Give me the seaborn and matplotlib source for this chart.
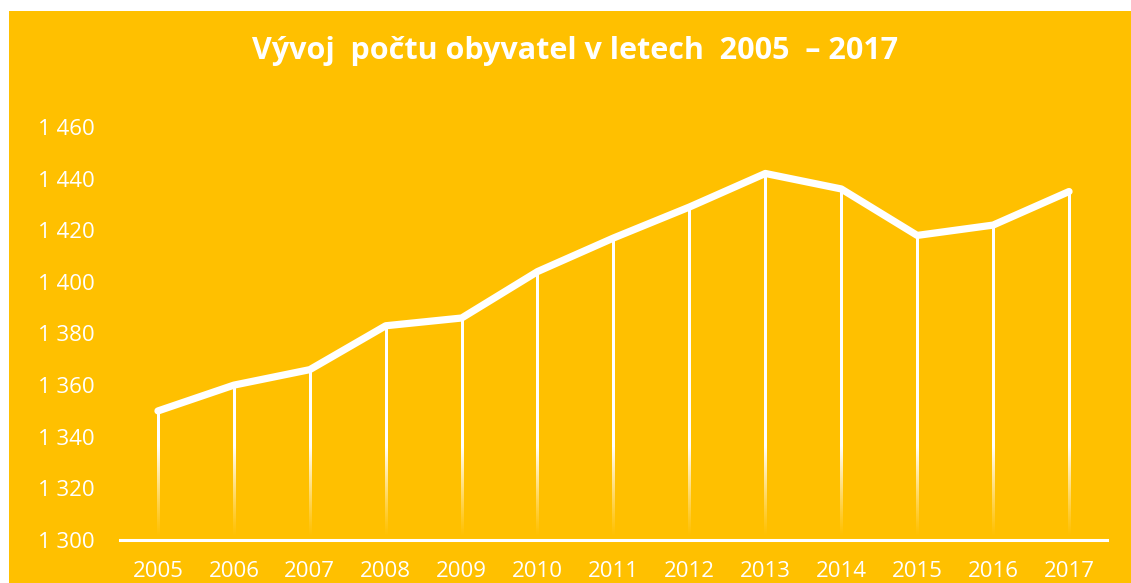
import numpy as np
import pandas as pd
import seaborn as sns
import matplotlib
matplotlib.use("Agg")
import matplotlib.pyplot as plt
from matplotlib.patches import Rectangle

years = [2005, 2006, 2007, 2008, 2009, 2010, 2011, 2012, 2013, 2014, 2015, 2016, 2017]
obyvatel = [1350, 1360, 1366, 1383, 1386, 1404, 1417, 1429, 1442, 1436, 1418, 1422, 1435]
y_ticks = [1300, 1320, 1340, 1360, 1380, 1400, 1420, 1440, 1460]
title = "Vývoj  počtu obyvatel v letech  2005  – 2017"

gold = "#FFC000"
df = pd.DataFrame({"rok": years, "pocet": obyvatel})

sns.set_style("white")
plt.rcParams["font.family"] = ["Open Sans", "DejaVu Sans"]

fig = plt.figure(figsize=(11.31, 5.83), dpi=100)
fig.patch.set_facecolor("white")
fig.patches.append(Rectangle((9 / 1131, 0), 1, 1 - 11 / 583, transform=fig.transFigure,
                             facecolor=gold, edgecolor="none", zorder=-5))

ax = fig.add_axes([120 / 1131, 43 / 583, 987 / 1131, 413 / 583])
ax.set_facecolor("none")

# drop lines as gradient columns: solid at top, fading out toward the axis
fade_lo, fade_hi = 1301, 1336
half_w = 1.1 / 75.9
for x, v in zip(years, obyvatel):
    yy = np.linspace(v, 1300, 300)
    col = np.ones((300, 1, 4))
    col[:, 0, 3] = np.clip((yy - fade_lo) / (fade_hi - fade_lo), 0, 1) ** 1.2
    ax.imshow(col, extent=(x - half_w, x + half_w, 1300, v),
              aspect="auto", interpolation="bilinear", zorder=2)

sns.lineplot(data=df, x="rok", y="pocet", ax=ax, color="white", linewidth=5.2,
             solid_capstyle="round", solid_joinstyle="round", zorder=3)

ax.set_xlim(2004.5, 2017.5)
ax.set_ylim(1300, 1460)
ax.set_xticks(years)
ax.set_xticklabels([str(y) for y in years])
ax.set_yticks(y_ticks)
ax.set_yticklabels([f"{t:,}".replace(",", " ") for t in y_ticks])
ax.tick_params(axis="both", length=0, labelcolor="white", labelsize=16)
ax.tick_params(axis="x", pad=15)
ax.tick_params(axis="y", pad=18)
ax.set_xlabel("")
ax.set_ylabel("")
for s in ["top", "right", "left"]:
    ax.spines[s].set_visible(False)
ax.spines["bottom"].set_color("white")
ax.spines["bottom"].set_linewidth(2.2)
ax.spines["bottom"].set_zorder(4)

fig.text(575 / 1131, 1 - 51 / 583, title, ha="center", va="center",
         color="white", fontsize=22, fontweight="bold")

fig.savefig("out.png", dpi=100, facecolor=fig.get_facecolor())
